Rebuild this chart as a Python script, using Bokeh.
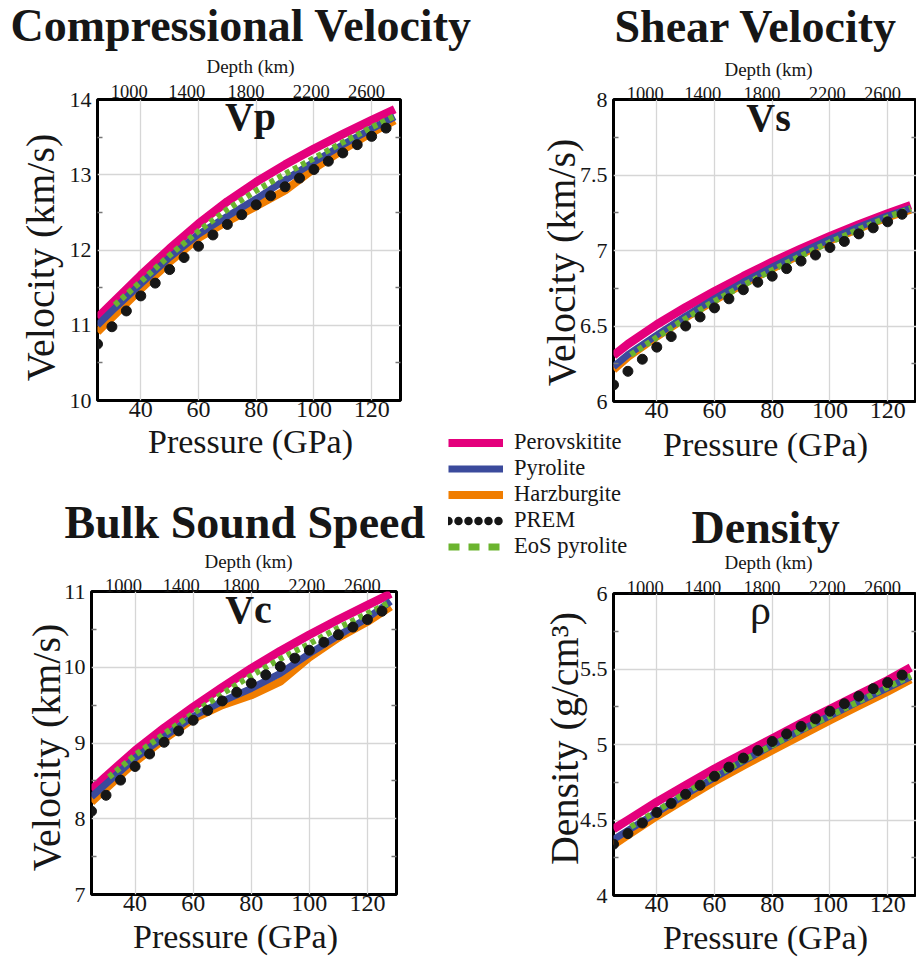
import math

import numpy as np
from bokeh.plotting import figure
from bokeh.layouts import column, row
from bokeh.models import (Range1d, FixedTicker, LinearAxis, Label, Legend, LegendItem, GridBox)
from bokeh.embed import file_html
from bokeh.resources import INLINE

SERIF = "Liberation Serif"
INK = "#161616"
MAGENTA = "#E4007C"
BLUE = "#3B4A9C"
ORANGE = "#F07D00"
GREEN = "#6BB42F"
GRID = "#d6d6d6"

# ---------------------------------------------------------------- data
pressure = [25, 30, 40, 50, 60, 70, 80, 90, 100, 110, 120, 128]
eos_pressure = [31, 40, 50, 60, 70, 80, 90, 100, 110, 120, 128]
prem_pressure = [25, 30, 35, 40, 45, 50, 55, 60, 65, 70, 75,
                 80, 85, 90, 95, 100, 105, 110, 115, 120, 125]

pressure_ticks = [40, 60, 80, 100, 120]
depth_labels = ["1000", "1400", "1800", "2200", "2600"]
depth_label_pressure = [36.0, 55.9, 76.5, 99.1, 118.2]

series_names = ["Perovskitite", "Pyrolite", "Harzburgite", "PREM", "EoS pyrolite"]

# compressional velocity, km/s
vp_perovskitite = [11.10, 11.29, 11.665, 12.02, 12.35, 12.645, 12.905, 13.135, 13.345, 13.54, 13.725, 13.87]
vp_pyrolite = [11.00, 11.19, 11.55, 11.90, 12.21, 12.45, 12.68, 12.93, 13.17, 13.40, 13.61, 13.77]
vp_harzburgite = [10.91, 11.10, 11.48, 11.84, 12.16, 12.38, 12.58, 12.79, 13.08, 13.33, 13.56, 13.72]
vp_eos_pyrolite = [11.27, 11.58, 11.93, 12.25, 12.54, 12.79, 13.01, 13.22, 13.43, 13.63, 13.78]
vp_prem = [10.75, 10.98, 11.19, 11.39, 11.56, 11.74, 11.90, 12.05, 12.20, 12.34, 12.47,
           12.60, 12.72, 12.84, 12.955, 13.07, 13.18, 13.29, 13.40, 13.51, 13.62]

# shear velocity, km/s
vs_perovskitite = [6.305, 6.38, 6.51, 6.625, 6.73, 6.83, 6.925, 7.012, 7.095, 7.172, 7.245, 7.30]
vs_pyrolite = [6.23, 6.31, 6.44, 6.565, 6.68, 6.79, 6.89, 6.985, 7.075, 7.155, 7.23, 7.28]
vs_harzburgite = [6.21, 6.295, 6.43, 6.555, 6.67, 6.78, 6.88, 6.975, 7.065, 7.145, 7.22, 7.27]
vs_eos_pyrolite = [6.31, 6.425, 6.55, 6.665, 6.77, 6.87, 6.965, 7.055, 7.14, 7.22, 7.28]
vs_prem = [6.11, 6.20, 6.28, 6.36, 6.43, 6.50, 6.56, 6.62, 6.68, 6.74, 6.79,
           6.83, 6.88, 6.93, 6.97, 7.02, 7.06, 7.11, 7.15, 7.19, 7.24]

# bulk sound speed, km/s
vc_perovskitite = [8.38, 8.56, 8.90, 9.20, 9.475, 9.735, 9.985, 10.215, 10.43, 10.63, 10.82, 10.97]
vc_pyrolite = [8.29, 8.46, 8.80, 9.08, 9.35, 9.55, 9.72, 9.92, 10.18, 10.42, 10.65, 10.87]
vc_harzburgite = [8.22, 8.40, 8.75, 9.05, 9.32, 9.50, 9.63, 9.81, 10.13, 10.39, 10.60, 10.80]
vc_eos_pyrolite = [8.55, 8.84, 9.12, 9.39, 9.65, 9.89, 10.11, 10.31, 10.52, 10.71, 10.86]
vc_prem = [8.10, 8.31, 8.51, 8.69, 8.855, 9.01, 9.16, 9.30, 9.43, 9.555, 9.67,
           9.79, 9.90, 10.01, 10.12, 10.225, 10.33, 10.43, 10.53, 10.63, 10.74]

# density, g/cm3
rho_perovskitite = [4.44, 4.50, 4.62, 4.73, 4.84, 4.94, 5.04, 5.14, 5.235, 5.33, 5.425, 5.51]
rho_pyrolite = [4.37, 4.43, 4.55, 4.67, 4.78, 4.89, 4.995, 5.095, 5.19, 5.285, 5.375, 5.45]
rho_harzburgite = [4.335, 4.40, 4.525, 4.64, 4.755, 4.86, 4.96, 5.06, 5.16, 5.255, 5.35, 5.43]
rho_eos_pyrolite = [4.455, 4.56, 4.68, 4.79, 4.895, 4.995, 5.095, 5.19, 5.285, 5.38, 5.455]
rho_prem = [4.34, 4.41, 4.48, 4.55, 4.61, 4.67, 4.73, 4.79, 4.85, 4.91, 4.96,
            5.02, 5.07, 5.12, 5.17, 5.22, 5.27, 5.32, 5.37, 5.41, 5.46]

vp_ticks, vp_tick_labels, vp_minor = [10, 11, 12, 13, 14], ["10", "11", "12", "13", "14"], [10.5, 11.5, 12.5, 13.5]
vs_ticks, vs_tick_labels, vs_minor = [6, 6.5, 7, 7.5, 8], ["6", "6.5", "7", "7.5", "8"], [6.25, 6.75, 7.25, 7.75]
vc_ticks, vc_tick_labels, vc_minor = [7, 8, 9, 10, 11], ["7", "8", "9", "10", "11"], [7.5, 8.5, 9.5, 10.5]
rho_ticks, rho_tick_labels, rho_minor = [4, 4.5, 5, 5.5, 6], ["4", "4.5", "5", "5.5", "6"], [4.25, 4.75, 5.25, 5.75]


def make_panel(width, height, borders, y_lim, ticks, tick_labels, minor, depth_standoff):
    left, right, top, bottom = borders
    p = figure(width=width, height=height, x_range=Range1d(25, 130), y_range=Range1d(*y_lim),
               min_border_left=left, min_border_right=right,
               min_border_top=top, min_border_bottom=bottom,
               title=None, toolbar_location=None, output_backend="svg",
               background_fill_color="white", border_fill_color="white")
    p.frame_align = False
    p.outline_line_color = "black"
    p.outline_line_width = 3

    # pressure axis (bottom)
    xax = p.xaxis[0]
    xax.ticker = FixedTicker(ticks=pressure_ticks)
    xax.major_label_overrides = {t: str(t) for t in pressure_ticks}
    xax.axis_line_color = None
    xax.major_tick_out = 0
    xax.major_tick_in = 0
    xax.minor_tick_out = 0
    xax.major_label_standoff = 1
    xax.major_label_text_font = SERIF
    xax.major_label_text_font_size = "24px"
    xax.major_label_text_color = INK

    # value axis (left) with inward half-step ticks
    yax = p.yaxis[0]
    yax.ticker = FixedTicker(ticks=ticks, minor_ticks=minor)
    yax.major_label_overrides = dict(zip(ticks, tick_labels))
    yax.axis_line_color = None
    yax.major_tick_out = 0
    yax.major_tick_in = 0
    yax.minor_tick_out = 0
    yax.minor_tick_in = 5
    yax.minor_tick_line_color = "#777777"
    yax.minor_tick_line_width = 1.5
    yax.major_label_standoff = 6
    yax.major_label_text_font = SERIF
    yax.major_label_text_font_size = "22px"
    yax.major_label_text_color = INK

    # mirrored ticks on the right edge
    rax = LinearAxis(ticker=FixedTicker(ticks=[], minor_ticks=minor))
    rax.axis_line_color = None
    rax.major_tick_out = 0
    rax.major_tick_in = 0
    rax.minor_tick_out = 0
    rax.minor_tick_in = 5
    rax.minor_tick_line_color = "#777777"
    rax.minor_tick_line_width = 1.5
    rax.major_label_standoff = 0
    rax.major_label_text_font_size = "0px"
    p.add_layout(rax, "right")

    # depth axis (top)
    tax = LinearAxis(ticker=FixedTicker(ticks=depth_label_pressure))
    tax.major_label_overrides = dict(zip(depth_label_pressure, depth_labels))
    tax.axis_line_color = None
    tax.major_tick_out = 0
    tax.major_tick_in = 0
    tax.minor_tick_out = 0
    tax.minor_tick_in = 0
    tax.major_label_standoff = depth_standoff
    tax.major_label_text_font = SERIF
    tax.major_label_text_font_size = "18.5px"
    tax.major_label_text_color = INK
    p.add_layout(tax, "above")

    p.xgrid.ticker = FixedTicker(ticks=pressure_ticks)
    p.ygrid.ticker = FixedTicker(ticks=ticks)
    for g in (p.xgrid, p.ygrid):
        g.grid_line_color = GRID
        g.grid_line_width = 1.3
    return p


def draw_series(p, perov, pyro, harz, eos, prem):
    p.line(pressure, perov, line_color=MAGENTA, line_width=8.5)
    p.line(pressure, harz, line_color=ORANGE, line_width=8)
    p.line(pressure, pyro, line_color=BLUE, line_width=7)
    p.line(eos_pressure, eos, line_color=GREEN, line_width=6, line_dash="5 4")
    p.scatter(prem_pressure, prem, size=10, color=INK)


# ---------------------------------------------------------------- panels
p_vp = make_panel(440, 480, (97, 40, 99, 80), (10, 14), vp_ticks, vp_tick_labels, vp_minor, 2)
draw_series(p_vp, vp_perovskitite, vp_pyrolite, vp_harzburgite, vp_eos_pyrolite, vp_prem)

p_vs = make_panel(476, 480, (173, 0, 99, 79), (6, 8), vs_ticks, vs_tick_labels, vs_minor, 0)
draw_series(p_vs, vs_perovskitite, vs_pyrolite, vs_harzburgite, vs_eos_pyrolite, vs_prem)

p_vc = make_panel(440, 480, (91, 44, 111, 66), (7, 11), vc_ticks, vc_tick_labels, vc_minor, 0)
draw_series(p_vc, vc_perovskitite, vc_pyrolite, vc_harzburgite, vc_eos_pyrolite, vc_prem)

p_rho = make_panel(476, 480, (173, 0, 113, 65), (4, 6), rho_ticks, rho_tick_labels, rho_minor, 0)
draw_series(p_rho, rho_perovskitite, rho_pyrolite, rho_harzburgite, rho_eos_pyrolite, rho_prem)

panels = column(row(p_vp, p_vs), row(p_vc, p_rho))

# ---------------------------------------------------------------- text layer
# A transparent sheet laid over the panels, in page pixels (y downwards),
# carrying the headings, axis titles and the shared legend.
sheet = figure(width=916, height=960, x_range=Range1d(0, 916), y_range=Range1d(960, 0),
               x_axis_type=None, y_axis_type=None, min_border=0, title=None,
               toolbar_location=None, output_backend="svg",
               background_fill_color=None, border_fill_color=None)
sheet.outline_line_color = None
sheet.frame_align = False


def text(x, y, s, size, bold=False, align="left", angle=0.0):
    sheet.add_layout(Label(x=x, y=y, text=s, angle=angle,
                           text_font=SERIF, text_font_size=f"{size}px",
                           text_font_style="bold" if bold else "normal",
                           text_color=INK, text_align=align, text_baseline="middle"))


# headings
text(10, 25, "Compressional Velocity", 46, bold=True)
text(614, 26, "Shear Velocity", 46, bold=True)
text(64, 522, "Bulk Sound Speed", 46, bold=True)
text(691, 527, "Density", 46, bold=True)

# panel tags
text(250, 116, "Vp", 40, bold=True, align="center")
text(768, 117, "Vs", 40, bold=True, align="center")
text(248, 609, "Vc", 40, bold=True, align="center")
text(760, 609, "ρ", 42, align="center")

# depth titles
text(250, 66, "Depth (km)", 19, align="center")
text(768, 69, "Depth (km)", 19, align="center")
text(248, 561, "Depth (km)", 19, align="center")
text(768, 562, "Depth (km)", 19, align="center")

# pressure titles
text(250, 441, "Pressure (GPa)", 34, align="center")
text(765, 444, "Pressure (GPa)", 34, align="center")
text(235, 936, "Pressure (GPa)", 34, align="center")
text(765, 937, "Pressure (GPa)", 34, align="center")

# value titles
text(40, 257, "Velocity (km/s)", 40, align="center", angle=math.pi / 2)
text(561, 262, "Velocity (km/s)", 40, align="center", angle=math.pi / 2)
text(46, 747, "Velocity (km/s)", 40, align="center", angle=math.pi / 2)
text(564, 738, "Density (g/cm³)", 40, align="center", angle=math.pi / 2)

# legend keys (a single undefined point, so nothing shows on the sheet itself)
blank = np.array([np.nan])
key_perov = sheet.line(blank, blank, line_color=MAGENTA, line_width=8)
key_pyro = sheet.line(blank, blank, line_color=BLUE, line_width=7)
key_harz = sheet.line(blank, blank, line_color=ORANGE, line_width=8)
key_prem = sheet.line(blank, blank, line_color=INK, line_width=8.5, line_dash="0 10", line_cap="round")
key_eos = sheet.line(blank, blank, line_color=GREEN, line_width=7, line_dash="11 9")
legend = Legend(
    items=[LegendItem(label=name, renderers=[r]) for name, r in
           zip(series_names, [key_perov, key_pyro, key_harz, key_prem, key_eos])],
    location=(448, 401), orientation="vertical",
    glyph_width=55, glyph_height=21, label_height=21, label_standoff=11, spacing=-2,
    padding=0, margin=0, border_line_color=None, background_fill_alpha=0,
    label_text_font=SERIF, label_text_font_size="22.5px", label_text_color=INK,
)
sheet.add_layout(legend)

page = GridBox(children=[(panels, 0, 0), (sheet, 0, 0)])

open("out.html", "w").write(file_html(page, INLINE))
